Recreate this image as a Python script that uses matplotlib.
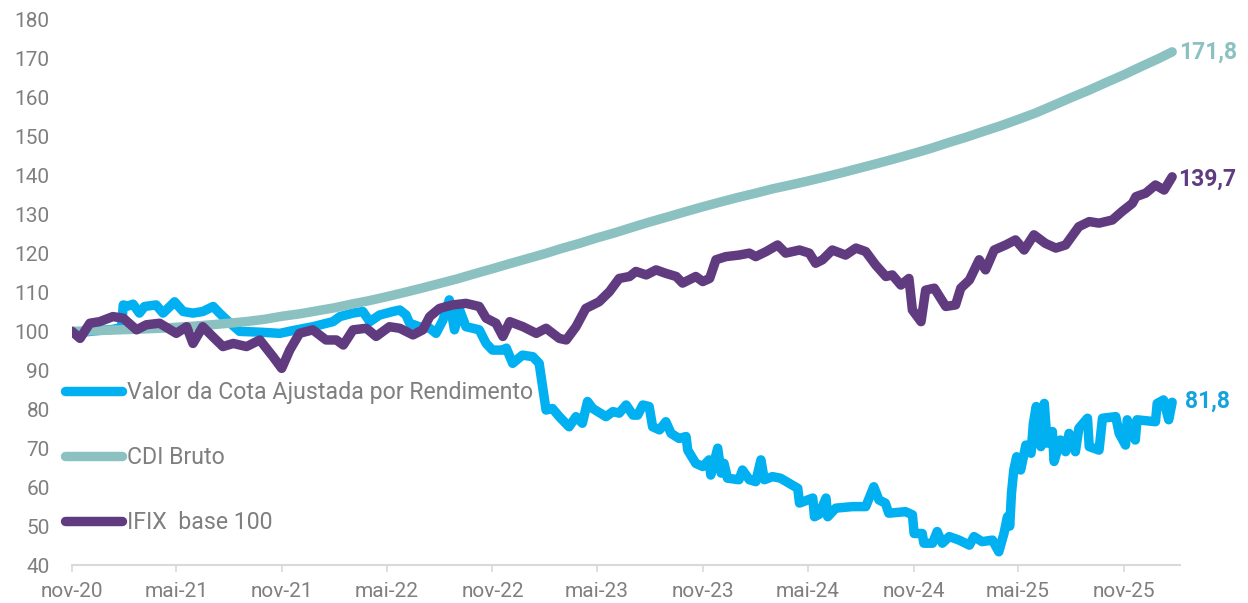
import pandas as pd
import matplotlib
matplotlib.use("Agg")
import matplotlib.pyplot as plt

plt.rcParams['font.family'] = ['Roboto', 'DejaVu Sans']

# Valor da Cota Ajustada por Rendimento
cota_dates = [
    "2020-11-01", "2020-11-20", "2020-12-15", "2021-01-10", "2021-01-26", "2021-01-29",
    "2021-02-06", "2021-02-15", "2021-02-26", "2021-03-07", "2021-03-27", "2021-04-08",
    "2021-04-20", "2021-04-28", "2021-05-13", "2021-05-30", "2021-06-16", "2021-07-04",
    "2021-07-15", "2021-07-27", "2021-08-19", "2021-09-23", "2021-10-28", "2021-11-19",
    "2021-12-24", "2022-01-28", "2022-02-09", "2022-03-04", "2022-03-21", "2022-04-02",
    "2022-04-19", "2022-05-12", "2022-05-24", "2022-06-04", "2022-06-10", "2022-06-27",
    "2022-07-15", "2022-07-26", "2022-08-07", "2022-08-18", "2022-08-27", "2022-09-05",
    "2022-09-16", "2022-09-28", "2022-10-09", "2022-10-21", "2022-11-01", "2022-11-19",
    "2022-11-25", "2022-12-06", "2022-12-23", "2023-01-10", "2023-01-21", "2023-01-27",
    "2023-02-02", "2023-02-13", "2023-02-25", "2023-03-14", "2023-03-26", "2023-04-06",
    "2023-04-15", "2023-04-24", "2023-05-17", "2023-05-29", "2023-06-09", "2023-06-21",
    "2023-07-03", "2023-07-11", "2023-07-20", "2023-07-31", "2023-08-06", "2023-08-18",
    "2023-08-29", "2023-09-07", "2023-09-21", "2023-10-03", "2023-10-06", "2023-10-20",
    "2023-11-01", "2023-11-12", "2023-11-15", "2023-11-27", "2023-12-03", "2023-12-08",
    "2023-12-14", "2024-01-03", "2024-01-09", "2024-01-21", "2024-02-01", "2024-02-10",
    "2024-02-16", "2024-03-01", "2024-03-15", "2024-03-30", "2024-04-14", "2024-04-17",
    "2024-05-10", "2024-05-13", "2024-05-21", "2024-06-02", "2024-06-05", "2024-06-19",
    "2024-07-18", "2024-08-10", "2024-08-24", "2024-09-02", "2024-09-13", "2024-09-19",
    "2024-10-18", "2024-10-30", "2024-11-02", "2024-11-16", "2024-11-19", "2024-12-04",
    "2024-12-12", "2024-12-21", "2025-01-02", "2025-01-19", "2025-02-06", "2025-02-14",
    "2025-02-28", "2025-03-18", "2025-03-29", "2025-04-07", "2025-04-13", "2025-04-17",
    "2025-04-20", "2025-04-24", "2025-04-29", "2025-05-06", "2025-05-15", "2025-05-24",
    "2025-05-28", "2025-06-02", "2025-06-10", "2025-06-16", "2025-06-21", "2025-06-30",
    "2025-07-03", "2025-07-14", "2025-07-23", "2025-07-29", "2025-08-09", "2025-08-15",
    "2025-08-30", "2025-09-02", "2025-09-19", "2025-09-25", "2025-10-18", "2025-10-24",
    "2025-11-04", "2025-11-07", "2025-11-21", "2025-11-24", "2025-12-26", "2025-12-29",
    "2026-01-09", "2026-01-18", "2026-01-24",
]
cota = [
    100.0, 99.8, 100.2, 100.5, 101.0, 106.8,
    106.5, 107.0, 104.7, 106.4, 106.8, 104.7,
    106.4, 107.6, 105.1, 104.7, 105.1, 106.4,
    104.7, 103.0, 100.0, 99.8, 99.5, 100.2,
    101.2, 102.5, 103.8, 104.7, 105.1, 102.5,
    104.2, 105.1, 105.5, 104.2, 102.1, 101.2,
    100.8, 99.5, 102.9, 108.1, 100.4, 105.5,
    101.2, 100.8, 100.4, 96.9, 95.2, 95.2,
    95.7, 91.8, 93.9, 93.5, 91.8, 85.8,
    79.8, 80.2, 78.1, 75.5, 78.1, 76.4,
    82.0, 80.2, 78.1, 79.4, 79.0, 81.1,
    78.5, 78.5, 81.1, 80.7, 75.5, 74.7,
    76.8, 73.8, 72.5, 73.0, 69.5, 66.1,
    65.3, 67.0, 63.1, 70.0, 63.6, 66.1,
    62.3, 61.9, 64.4, 61.9, 61.4, 67.0,
    61.9, 62.7, 62.3, 61.0, 59.7, 55.9,
    57.2, 52.4, 53.0, 57.2, 52.4, 54.6,
    55.0, 55.0, 60.1, 56.7, 55.9, 53.3,
    53.7, 52.9, 48.1, 48.1, 45.6, 45.6,
    48.6, 45.6, 47.3, 46.4, 45.1, 47.3,
    46.0, 46.4, 43.4, 48.1, 52.4, 50.0,
    58.4, 64.4, 67.8, 64.4, 70.8, 68.7,
    76.4, 80.7, 70.4, 81.5, 71.3, 74.3,
    66.6, 72.1, 69.1, 73.8, 69.1, 75.1,
    77.7, 70.4, 69.5, 77.7, 78.1, 73.8,
    70.8, 77.3, 72.1, 77.3, 76.8, 81.5,
    82.4, 77.3, 81.8,
]

# CDI Bruto
cdi_dates = [
    "2020-11-01", "2020-12-01", "2021-01-01", "2021-02-01", "2021-03-01", "2021-04-01",
    "2021-05-01", "2021-06-01", "2021-07-01", "2021-08-01", "2021-09-01", "2021-10-01",
    "2021-11-01", "2021-12-01", "2022-01-01", "2022-02-01", "2022-03-01", "2022-04-01",
    "2022-05-01", "2022-06-01", "2022-07-01", "2022-08-01", "2022-09-01", "2022-10-01",
    "2022-11-01", "2022-12-01", "2023-01-01", "2023-02-01", "2023-03-01", "2023-04-01",
    "2023-05-01", "2023-06-01", "2023-07-01", "2023-08-01", "2023-09-01", "2023-10-01",
    "2023-11-01", "2023-12-01", "2024-01-01", "2024-02-01", "2024-03-01", "2024-04-01",
    "2024-05-01", "2024-06-01", "2024-07-01", "2024-08-01", "2024-09-01", "2024-10-01",
    "2024-11-01", "2024-12-01", "2025-01-01", "2025-02-01", "2025-03-01", "2025-04-01",
    "2025-05-01", "2025-06-01", "2025-07-01", "2025-08-01", "2025-09-01", "2025-10-01",
    "2025-11-01", "2025-12-01", "2026-01-01", "2026-01-24",
]
cdi = [
    100.0, 100.15, 100.3, 100.45, 100.6, 100.8,
    101.05, 101.35, 101.7, 102.1, 102.55, 103.1,
    103.9, 104.5, 105.3, 106.1, 107.0, 107.9,
    108.9, 110.0, 111.1, 112.3, 113.5, 114.8,
    116.1, 117.4, 118.7, 120.0, 121.3, 122.6,
    124.0, 125.3, 126.7, 128.1, 129.4, 130.7,
    132.0, 133.2, 134.4, 135.5, 136.6, 137.6,
    138.6, 139.7, 140.8, 142.0, 143.2, 144.4,
    145.7, 147.0, 148.5, 149.9, 151.3, 152.8,
    154.4, 156.1, 158.0, 160.0, 161.9, 163.9,
    165.9, 168.0, 170.1, 171.8,
]

# IFIX base 100
ifix_dates = [
    "2020-11-01", "2020-11-15", "2020-12-02", "2020-12-19", "2021-01-11", "2021-01-29",
    "2021-02-21", "2021-03-10", "2021-04-02", "2021-05-01", "2021-05-19", "2021-05-30",
    "2021-06-16", "2021-07-03", "2021-07-21", "2021-08-08", "2021-08-31", "2021-09-23",
    "2021-10-16", "2021-10-31", "2021-11-14", "2021-12-01", "2021-12-24", "2022-01-16",
    "2022-02-03", "2022-02-15", "2022-03-04", "2022-03-27", "2022-04-13", "2022-05-06",
    "2022-05-24", "2022-06-16", "2022-07-03", "2022-07-15", "2022-08-01", "2022-08-24",
    "2022-09-16", "2022-10-09", "2022-10-21", "2022-11-07", "2022-11-19", "2022-12-01",
    "2022-12-24", "2023-01-16", "2023-02-02", "2023-02-25", "2023-03-09", "2023-03-26",
    "2023-04-12", "2023-05-05", "2023-05-23", "2023-06-09", "2023-06-27", "2023-07-08",
    "2023-07-26", "2023-08-12", "2023-08-29", "2023-09-16", "2023-09-27", "2023-10-20",
    "2023-11-01", "2023-11-13", "2023-11-24", "2023-12-11", "2024-01-03", "2024-01-21",
    "2024-02-01", "2024-02-19", "2024-03-10", "2024-03-24", "2024-04-17", "2024-05-04",
    "2024-05-15", "2024-05-27", "2024-06-13", "2024-07-06", "2024-07-24", "2024-08-10",
    "2024-08-27", "2024-09-14", "2024-09-25", "2024-10-10", "2024-10-24", "2024-10-30",
    "2024-11-14", "2024-11-22", "2024-12-07", "2024-12-27", "2025-01-13", "2025-01-22",
    "2025-02-06", "2025-02-23", "2025-03-06", "2025-03-21", "2025-04-10", "2025-04-27",
    "2025-05-12", "2025-05-29", "2025-06-18", "2025-07-06", "2025-07-23", "2025-08-15",
    "2025-09-02", "2025-09-19", "2025-10-12", "2025-10-29", "2025-11-16", "2025-11-22",
    "2025-12-09", "2025-12-26", "2026-01-10", "2026-01-24",
]
ifix = [
    100.0, 98.2, 102.1, 102.5, 103.8, 103.4,
    100.4, 101.7, 102.1, 99.5, 101.2, 96.9,
    101.2, 98.7, 96.1, 96.9, 96.1, 97.8,
    93.5, 90.5, 95.2, 99.5, 100.4, 97.8,
    97.8, 96.5, 100.4, 100.8, 98.7, 101.2,
    100.8, 99.1, 100.4, 103.8, 105.9, 106.8,
    107.2, 106.4, 103.4, 102.1, 98.7, 102.5,
    101.2, 99.5, 100.8, 98.2, 97.8, 101.2,
    105.9, 107.6, 110.2, 113.6, 114.1, 115.4,
    114.5, 115.8, 114.9, 114.1, 112.4, 114.1,
    112.8, 113.6, 118.4, 119.2, 119.6, 120.1,
    119.2, 120.5, 122.2, 120.1, 120.9, 120.1,
    117.5, 118.4, 120.9, 119.6, 121.4, 120.5,
    117.1, 114.1, 114.5, 111.9, 113.6, 105.5,
    102.5, 110.6, 111.1, 106.4, 106.8, 111.1,
    113.2, 118.4, 115.8, 120.9, 122.2, 123.5,
    120.9, 124.8, 122.6, 121.4, 122.2, 126.9,
    128.2, 127.8, 128.6, 130.8, 132.9, 134.6,
    135.5, 137.6, 136.3, 139.7,
]

tick_dates = ["2020-11-01", "2021-05-01", "2021-11-01", "2022-05-01", "2022-11-01", "2023-05-01",
              "2023-11-01", "2024-05-01", "2024-11-01", "2025-05-01", "2025-11-01"]
tick_labels = ["nov-20", "mai-21", "nov-21", "mai-22", "nov-22", "mai-23",
               "nov-23", "mai-24", "nov-24", "mai-25", "nov-25"]

c_cota = "#00b0f0"
c_cdi = "#8bc1c1"
c_ifix = "#603b80"
gray = "#7f7f7f"

fig = plt.figure(figsize=(12.48, 6.03), dpi=100)
ax = fig.add_axes([0.0577, 0.063, 0.888, 0.904])

lw = 6.8
ax.plot(pd.to_datetime(cota_dates), cota, color=c_cota, lw=lw,
        solid_capstyle="round", solid_joinstyle="round", label="Valor da Cota Ajustada por Rendimento")
ax.plot(pd.to_datetime(cdi_dates), cdi, color=c_cdi, lw=lw,
        solid_capstyle="round", solid_joinstyle="round", label="CDI Bruto")
ax.plot(pd.to_datetime(ifix_dates), ifix, color=c_ifix, lw=lw,
        solid_capstyle="round", solid_joinstyle="round", label="IFIX  base 100")

# rótulos no fim de cada série
ends = [(cdi_dates, cdi, c_cdi, 5, 0), (ifix_dates, ifix, c_ifix, 4, -2), (cota_dates, cota, "#14a3dc", 9, 1)]
for d, v, col, dx, dy in ends:
    ax.annotate(f"{v[-1]:.1f}".replace(".", ","), (pd.Timestamp(d[-1]), v[-1]),
                xytext=(dx, dy), textcoords="offset points", va="center", ha="left",
                color=col, fontsize=16.5, fontweight="bold", annotation_clip=False)

ax.set_ylim(40, 180)
ax.set_yticks(range(40, 181, 10))
ax.set_xlim(pd.Timestamp("2020-11-01"), pd.Timestamp("2026-02-07"))
ax.set_xticks(pd.to_datetime(tick_dates))
ax.set_xticklabels(tick_labels)

for s in ["top", "right", "left"]:
    ax.spines[s].set_visible(False)
ax.spines["bottom"].set_color("#d9d9d9")
ax.spines["bottom"].set_linewidth(1.5)
ax.tick_params(axis="y", length=0, pad=16, labelsize=15, labelcolor=gray)
ax.tick_params(axis="x", length=5, width=1.2, color="#d9d9d9", pad=7, labelsize=15, labelcolor=gray)

leg = ax.legend(loc="upper left", bbox_to_anchor=(-0.006, 0.338), frameon=False,
                fontsize=16.7, handlelength=2.45, handletextpad=0.22, labelspacing=1.82,
                borderpad=0, borderaxespad=0)
for t in leg.get_texts():
    t.set_color(gray)
for h in leg.get_lines():
    h.set_solid_capstyle("round")

fig.savefig("out.png", dpi=100)
